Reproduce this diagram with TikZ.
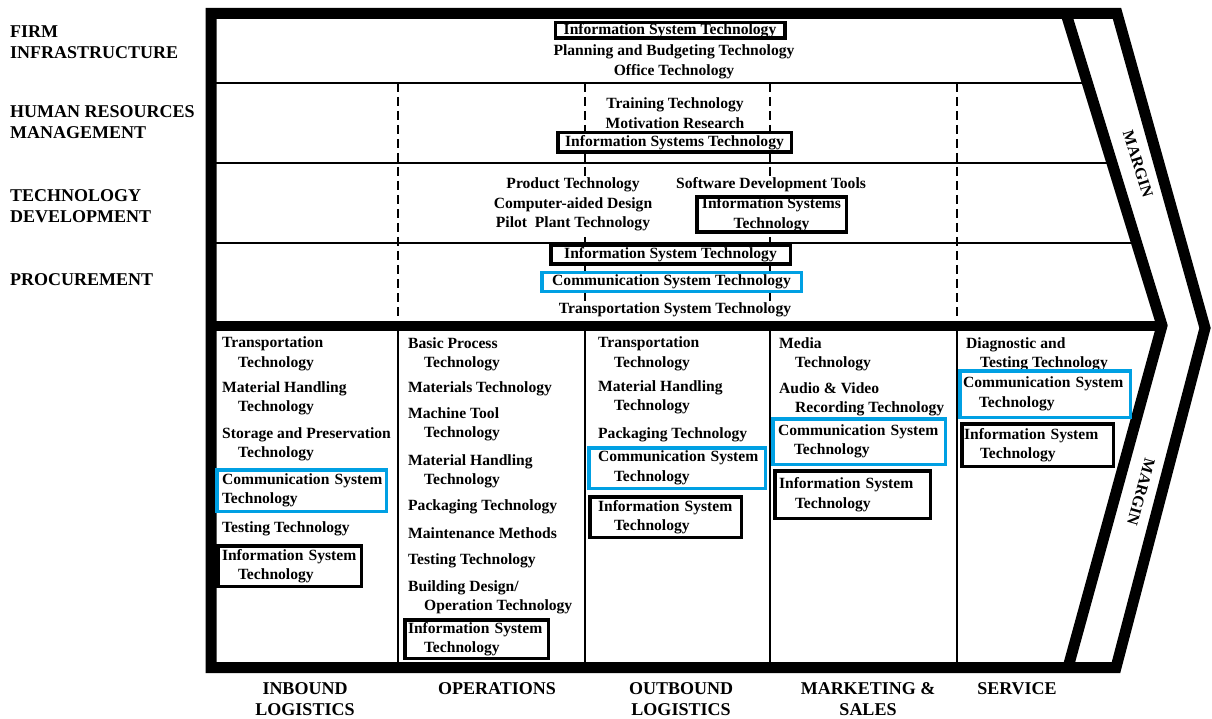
\documentclass[tikz,border=0pt]{standalone}
\usepackage{fontspec}
\setmainfont{Liberation Serif}
\usetikzlibrary{calc}
\definecolor{commblue}{RGB}{0,160,227}
\newcommand{\techindent}{\hspace*{16pt}}

\begin{document}
\begin{tikzpicture}[
  x=1pt, y=-1pt,
  chainframe/.style={line width=11pt, line join=miter},
  rowline/.style={line width=1.6pt},
  dashdiv/.style={line width=1.4pt, dash pattern=on 9pt off 5pt},
  colline/.style={line width=1.8pt},
  actlabel/.style={font=\fontsize{18}{21}\selectfont\bfseries, align=left, anchor=west, inner sep=0pt},
  collabel/.style={font=\fontsize{18}{21}\selectfont\bfseries, align=center, inner sep=0pt},
  techfont/.style={font=\fontsize{15.6}{19.5}\selectfont\bfseries},
  supptext/.style={techfont, fill=white, align=center, inner sep=1pt, yshift=-1.5pt},
  primtext/.style={techfont, align=left, anchor=west, inner sep=0pt, yshift=-1.5pt},
  infobox/.style={techfont, draw=black, line width=3.5pt, inner sep=0pt, outer sep=0pt},
  commbox/.style={infobox, draw=commblue},
  suppbox/.style={fill=white, anchor=center, align=center},
  primbox/.style={anchor=north west, align=left},
  marginlabel/.style={font=\fontsize{16}{16}\selectfont\bfseries, inner sep=0pt}
]
  \useasboundingbox (0,0) rectangle (1212,719);

  % frame of the chain
  \coordinate (ftl) at (211,13.5);
  \coordinate (fbl) at (211,667.5);
  \coordinate (otr) at (1117,13.5);
  \coordinate (otip) at (1205,328);
  \coordinate (obr) at (1116,667.5);
  \coordinate (itr) at (1066,13.5);
  \coordinate (itip) at (1162,325.5);
  \coordinate (ibr) at (1068,667.5);
  \coordinate (mid) at (211,325.5);

  \foreach \cx in {398,585,770,957}
    \draw[dashdiv] (\cx,83) -- (\cx,320);
  \foreach \ry in {83,163,243} {
    \pgfmathsetmacro\rf{(\ry-13.5)/312}
    \draw[rowline] (211,\ry) -- ($(itr)!\rf!(itip)$);
  }
  \foreach \cx in {398,585,770,957}
    \draw[colline] (\cx,325) -- (\cx,667);
  \draw[chainframe] (otip) -- (otr) -- (ftl) -- (fbl) -- (obr) -- cycle;
  \draw[chainframe] (itr) -- (itip) -- (ibr);
  \draw[chainframe, line width=10pt] (mid) -- (itip);

  \node[marginlabel, rotate=-72.5] (margin-up) at (1138,164) {MARGIN};
  \node[marginlabel, rotate=-105.5] (margin-low) at (1141,492) {MARGIN};

  % activity names
  \node[actlabel] (firm) at (10,42.5) {FIRM\\INFRASTRUCTURE};
  \node[actlabel] (hrm) at (10,122) {HUMAN RESOURCES\\MANAGEMENT};
  \node[actlabel] (techdev) at (10,206.5) {TECHNOLOGY\\DEVELOPMENT};
  \node[actlabel] (procure) at (10,280) {PROCUREMENT};

  \node[collabel] (inbound) at (305,699.5) {INBOUND\\LOGISTICS};
  \node[collabel] (operations) at (497,689) {OPERATIONS};
  \node[collabel] (outbound) at (681,699.5) {OUTBOUND\\LOGISTICS};
  \node[collabel] (marketing) at (868,699.5) {MARKETING \&\\SALES};
  \node[collabel] (service) at (1017,689) {SERVICE};

  % support activities
  \node[infobox, suppbox, minimum width=229.5pt, minimum height=15.5pt] (fi-info) at (670,30.5) {Information System Technology};
  \node[supptext] (fi-plan) at (674,50) {Planning and Budgeting Technology};
  \node[supptext] (fi-office) at (674,70) {Office Technology};

  \node[supptext] (hr-train) at (675,103) {Training Technology};
  \node[supptext] (hr-motiv) at (675,122) {Motivation Research};
  \node[infobox, suppbox, minimum width=233.5pt, minimum height=19.5pt] (hr-info) at (674.5,142.5) {Information Systems Technology};

  \node[supptext] (td-prod) at (573,203) {Product Technology\\Computer-aided Design\\Pilot~ Plant Technology};
  \node[supptext] (td-soft) at (771,183) {Software Development Tools};
  \node[infobox, suppbox, minimum width=149.5pt, minimum height=35pt] (td-info) at (771.5,214.5) {Information Systems\\Technology};

  \node[infobox, suppbox, minimum width=239.5pt, minimum height=18.5pt] (pr-info) at (670.5,255) {Information System Technology};
  \node[commbox, suppbox, minimum width=259.5pt, minimum height=18.5pt] (pr-comm) at (671.5,282) {Communication System Technology};
  \node[supptext] (pr-trans) at (675,308) {Transportation System Technology};

  % primary activities
  \node[primtext] (il-trans) at (222,352.5) {Transportation\\\techindent Technology};
  \node[primtext] (il-mat) at (222,397) {Material Handling\\\techindent Technology};
  \node[primtext] (il-stor) at (222,443) {Storage and Preservation\\\techindent Technology};
  \node[commbox, primbox, inner xsep=5.25pt, text width=159pt, minimum height=41.5pt] (il-comm) at (216.75,469.75) {\mbox{Communication System}\\Technology};
  \node[primtext] (il-test) at (222,527) {Testing Technology};
  \node[infobox, primbox, inner xsep=4.25pt, text width=135pt, minimum height=40.5pt] (il-info) at (217.75,545.75) {\mbox{Information System}\\\techindent Technology};

  \node[primtext] (op-basic) at (408,353) {Basic Process\\\techindent Technology};
  \node[primtext] (op-mats) at (408,387) {Materials Technology};
  \node[primtext] (op-mach) at (408,423) {Machine Tool\\\techindent Technology};
  \node[primtext] (op-mat) at (408,470) {Material Handling\\\techindent Technology};
  \node[primtext] (op-pack) at (408,505) {Packaging Technology};
  \node[primtext] (op-maint) at (408,532) {Maintenance Methods};
  \node[primtext] (op-test) at (408,559) {Testing Technology};
  \node[primtext] (op-build) at (408,596) {Building Design/\\\techindent Operation Technology};
  \node[infobox, primbox, inner xsep=3.25pt, text width=137pt, minimum height=38.5pt] (op-info) at (404.75,619.75) {\mbox{Information System}\\\techindent Technology};

  \node[primtext] (ol-trans) at (598,352.5) {Transportation\\\techindent Technology};
  \node[primtext] (ol-mat) at (598,396) {Material Handling\\\techindent Technology};
  \node[primtext] (ol-pack) at (598,433) {Packaging Technology};
  \node[commbox, primbox, inner xsep=9.25pt, text width=158pt, minimum height=40.5pt] (ol-comm) at (588.75,447.75) {\mbox{Communication System}\\\techindent Technology};
  \node[infobox, primbox, inner xsep=8.25pt, text width=135pt, minimum height=40.5pt] (ol-info) at (589.75,496.75) {\mbox{Information System}\\\techindent Technology};

  \node[primtext] (ms-media) at (779,353) {Media\\\techindent Technology};
  \node[primtext] (ms-audio) at (779,398) {Audio \& Video\\\techindent Recording Technology};
  \node[commbox, primbox, inner xsep=5.25pt, text width=162pt, minimum height=45.5pt] (ms-comm) at (772.75,418.75) {\mbox{Communication System}\\\techindent Technology};
  \node[infobox, primbox, inner xsep=4.25pt, text width=147pt, minimum height=47.5pt] (ms-info) at (774.75,470.75) {\mbox{Information System}\\\techindent Technology};

  \node[primtext] (sv-diag) at (966,353) {Diagnostic and\\\hspace*{14pt}Testing Technology};
  \node[commbox, primbox, inner xsep=3.25pt, text width=164pt, minimum height=46.5pt] (sv-comm) at (959.75,370.75) {\mbox{Communication System}\\\techindent Technology};
  \node[infobox, primbox, inner xsep=2.25pt, text width=147pt, minimum height=42.5pt] (sv-info) at (961.75,423.75) {\mbox{Information System}\\\techindent Technology};
\end{tikzpicture}
\end{document}
